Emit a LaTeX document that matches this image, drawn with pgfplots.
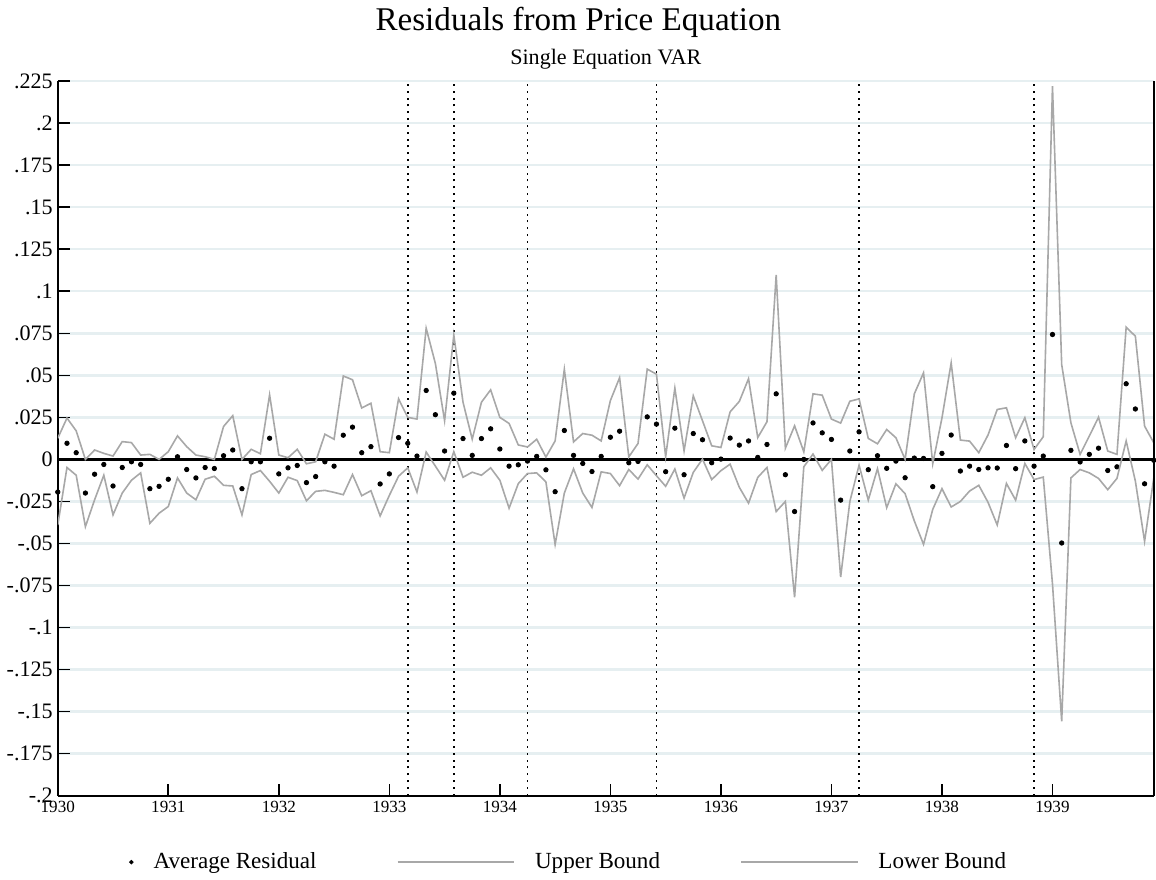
\documentclass[border=0pt]{standalone}
\usepackage{fontspec}
\setmainfont{Liberation Serif}
\usepackage{pgfplots}
\usepackage{pgfplotstable}
\pgfplotsset{compat=1.18}

\definecolor{bandgray}{RGB}{168,168,168}
\definecolor{gridc}{RGB}{230,239,241}

% month index (0 = Jan 1930), upper bound, lower bound, average residual
\pgfplotstableread{
m U L D
0 0.0126 -0.0390 -0.0194
1 0.0246 -0.0048 0.0096
2 0.0170 -0.0094 0.0040
3 0.0000 -0.0400 -0.0200
4 0.0056 -0.0240 -0.0088
5 0.0036 -0.0094 -0.0030
6 0.0020 -0.0330 -0.0158
7 0.0106 -0.0200 -0.0048
8 0.0100 -0.0124 -0.0014
9 0.0026 -0.0080 -0.0030
10 0.0030 -0.0380 -0.0174
11 0.0000 -0.0320 -0.0160
12 0.0046 -0.0280 -0.0118
13 0.0140 -0.0110 0.0016
14 0.0076 -0.0200 -0.0060
15 0.0026 -0.0240 -0.0110
16 0.0016 -0.0118 -0.0048
17 0.0000 -0.0100 -0.0054
18 0.0196 -0.0154 0.0022
19 0.0260 -0.0158 0.0056
20 0.0000 -0.0330 -0.0174
21 0.0060 -0.0090 -0.0014
22 0.0034 -0.0066 -0.0014
23 0.0384 -0.0130 0.0126
24 0.0026 -0.0200 -0.0086
25 0.0010 -0.0106 -0.0050
26 0.0060 -0.0126 -0.0036
27 -0.0026 -0.0246 -0.0138
28 -0.0014 -0.0190 -0.0102
29 0.0150 -0.0184 -0.0014
30 0.0120 -0.0196 -0.0040
31 0.0496 -0.0210 0.0144
32 0.0474 -0.0090 0.0192
33 0.0306 -0.0216 0.0040
34 0.0334 -0.0186 0.0076
35 0.0046 -0.0336 -0.0146
36 0.0040 -0.0214 -0.0086
37 0.0360 -0.0100 0.0130
38 0.0250 -0.0050 0.0096
39 0.0240 -0.0194 0.0020
40 0.0780 0.0044 0.0410
41 0.0570 -0.0040 0.0266
42 0.0230 -0.0124 0.0050
43 0.0740 0.0046 0.0394
44 0.0340 -0.0106 0.0124
45 0.0120 -0.0076 0.0024
46 0.0340 -0.0094 0.0124
47 0.0414 -0.0050 0.0182
48 0.0250 -0.0124 0.0062
49 0.0214 -0.0290 -0.0040
50 0.0086 -0.0144 -0.0032
51 0.0074 -0.0084 -0.0010
52 0.0120 -0.0080 0.0018
53 0.0014 -0.0134 -0.0062
54 0.0110 -0.0506 -0.0192
55 0.0536 -0.0200 0.0172
56 0.0104 -0.0056 0.0024
57 0.0154 -0.0200 -0.0024
58 0.0144 -0.0286 -0.0072
59 0.0110 -0.0074 0.0018
60 0.0350 -0.0084 0.0132
61 0.0486 -0.0156 0.0168
62 0.0015 -0.0060 -0.0020
63 0.0095 -0.0117 -0.0012
64 0.0537 -0.0032 0.0253
65 0.0507 -0.0097 0.0210
66 0.0016 -0.0160 -0.0073
67 0.0424 -0.0057 0.0186
68 0.0051 -0.0230 -0.0091
69 0.0378 -0.0077 0.0154
70 0.0230 0.0002 0.0117
71 0.0081 -0.0120 -0.0020
72 0.0071 -0.0067 0.0002
73 0.0283 -0.0028 0.0127
74 0.0345 -0.0166 0.0085
75 0.0480 -0.0260 0.0110
76 0.0130 -0.0107 0.0012
77 0.0224 -0.0048 0.0089
78 0.1097 -0.0310 0.0390
79 0.0067 -0.0250 -0.0091
80 0.0200 -0.0820 -0.0310
81 0.0045 -0.0044 0.0000
82 0.0390 0.0032 0.0217
83 0.0382 -0.0065 0.0158
84 0.0240 0.0000 0.0119
85 0.0216 -0.0700 -0.0242
86 0.0346 -0.0250 0.0050
87 0.0360 -0.0034 0.0164
88 0.0125 -0.0242 -0.0061
89 0.0093 -0.0055 0.0022
90 0.0178 -0.0287 -0.0053
91 0.0129 -0.0145 -0.0010
92 0.0000 -0.0204 -0.0109
93 0.0390 -0.0366 0.0008
94 0.0515 -0.0505 0.0006
95 -0.0026 -0.0297 -0.0162
96 0.0247 -0.0174 0.0036
97 0.0574 -0.0283 0.0145
98 0.0115 -0.0250 -0.0069
99 0.0109 -0.0188 -0.0040
100 0.0040 -0.0154 -0.0060
101 0.0145 -0.0255 -0.0050
102 0.0297 -0.0390 -0.0051
103 0.0307 -0.0143 0.0083
104 0.0129 -0.0242 -0.0055
105 0.0248 -0.0024 0.0110
106 0.0059 -0.0120 -0.0040
107 0.0135 -0.0105 0.0020
108 0.2220 -0.0740 0.0743
109 0.0564 -0.1557 -0.0497
110 0.0218 -0.0110 0.0054
111 0.0030 -0.0060 -0.0015
112 0.0139 -0.0080 0.0030
113 0.0251 -0.0113 0.0067
114 0.0050 -0.0180 -0.0066
115 0.0030 -0.0113 -0.0044
116 0.0786 0.0110 0.0450
117 0.0733 -0.0129 0.0300
118 0.0198 -0.0487 -0.0145
119 0.0099 -0.0110 -0.0005
}\resid

\begin{document}
\begin{tikzpicture}
\begin{axis}[
    width=546pt, height=356pt,
    scale only axis,
    clip mode=individual,
    xmin=0, xmax=119,
    ymin=-0.2, ymax=0.225,
    axis x line*=bottom,
    axis y line*=left,
    axis line style={black, line width=1pt},
    xtick={0,12,...,108},
    xticklabels={1930,1931,1932,1933,1934,1935,1936,1937,1938,1939},
    ytick={-0.2,-0.175,...,0.226},
    yticklabels={-.2,-.175,-.15,-.125,-.1,-.075,-.05,-.025,0,.025,.05,.075,.1,.125,.15,.175,.2,.225},
    tick align=inside,
    major tick length=6pt,
    tick style={black, line width=0.8pt},
    xticklabel style={font=\fontsize{8.5}{10}\selectfont, yshift=1pt},
    yticklabel style={font=\fontsize{11}{13}\selectfont, xshift=1pt},
    ymajorgrids,
    major grid style={gridc, line width=1.2pt},
    legend columns=3,
    legend style={draw=none, fill=none, font=\fontsize{11.5}{13}\selectfont,
        at={(axis description cs:0.467,-0.093)}, anchor=center,
        /tikz/every odd column/.append style={column sep=8pt},
        /tikz/every even column/.append style={column sep=38pt}},
]
% vertical reference lines
\addplot[black, line width=0.8pt, dash pattern=on 1pt off 2.4pt, forget plot] coordinates {(38,-0.2) (38,0.225)};
\addplot[black, line width=0.8pt, dash pattern=on 1pt off 2.4pt, forget plot] coordinates {(43,-0.2) (43,0.225)};
\addplot[black, line width=0.8pt, dash pattern=on 1pt off 2.4pt, forget plot] coordinates {(51,-0.2) (51,0.225)};
\addplot[black, line width=0.8pt, dash pattern=on 1pt off 2.4pt, forget plot] coordinates {(65,-0.2) (65,0.225)};
\addplot[black, line width=0.8pt, dash pattern=on 1pt off 2.4pt, forget plot] coordinates {(87,-0.2) (87,0.225)};
\addplot[black, line width=0.8pt, dash pattern=on 1pt off 2.4pt, forget plot] coordinates {(106,-0.2) (106,0.225)};
% zero line
\addplot[black, line width=1.5pt, forget plot] coordinates {(0,0) (119,0)};

\addplot[only marks, mark=*, mark size=1.1pt, black,
    legend image code/.code={\fill[black] (0pt,0pt) circle (0.9pt);}]
    table[x=m, y=D] {\resid};
\addlegendentry{Average Residual}
\addplot[bandgray, line width=0.8pt, mark=none,
    legend image code/.code={\draw[bandgray, line width=0.8pt] (0pt,0pt) -- (58pt,0pt);}]
    table[x=m, y=U] {\resid};
\addlegendentry{Upper Bound}
\addplot[bandgray, line width=0.8pt, mark=none,
    legend image code/.code={\draw[bandgray, line width=0.8pt] (0pt,0pt) -- (58pt,0pt);}]
    table[x=m, y=L] {\resid};
\addlegendentry{Lower Bound}

\draw[black, line width=1pt] (rel axis cs:1,0) -- (rel axis cs:1,1);
\node[font=\fontsize{16.5}{19}\selectfont] at (rel axis cs:0.475,1) [yshift=29.5pt] {Residuals from Price Equation};
\node[font=\fontsize{11}{13}\selectfont] at (rel axis cs:0.5,1) [yshift=11pt] {Single Equation VAR};
\end{axis}
\end{tikzpicture}
\end{document}
